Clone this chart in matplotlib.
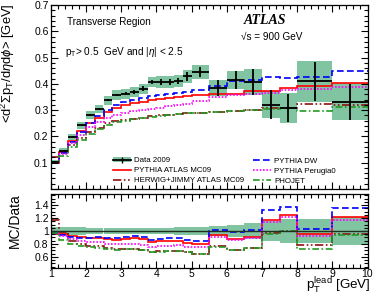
import numpy as np
import matplotlib
matplotlib.use("Agg")
import matplotlib.pyplot as plt
from matplotlib.patches import Patch
from matplotlib.lines import Line2D
from matplotlib.ticker import MultipleLocator, FuncFormatter

plt.rcParams['font.family'] = ['Liberation Sans', 'DejaVu Sans']
plt.rcParams['mathtext.fontset'] = 'custom'
plt.rcParams['mathtext.rm'] = 'Liberation Sans'
plt.rcParams['mathtext.it'] = 'Liberation Sans:italic'
plt.rcParams['mathtext.bf'] = 'Liberation Sans:bold'

# bin edges in leading track pT [GeV]
edges = [1.0, 1.25, 1.5, 1.75, 2.0, 2.25, 2.5, 2.75, 3.0, 3.25, 3.5, 3.75,
         4.0, 4.25, 4.5, 4.75, 5.0, 5.5, 6.0, 6.5, 7.0, 7.5, 8.0, 9.0, 10.0]

data = [0.103, 0.146, 0.199, 0.242, 0.281, 0.306, 0.338, 0.357, 0.362, 0.368,
        0.382, 0.407, 0.407, 0.407, 0.410, 0.428, 0.445, 0.385, 0.415, 0.407,
        0.320, 0.308, 0.410, 0.332]
data_stat = [0.002, 0.002, 0.003, 0.003, 0.004, 0.004, 0.005, 0.005, 0.006, 0.007,
             0.008, 0.009, 0.010, 0.011, 0.012, 0.018, 0.020, 0.030, 0.035, 0.048,
             0.055, 0.055, 0.075, 0.068]
band_rel = [0.06, 0.06, 0.055, 0.055, 0.05, 0.05, 0.05, 0.05, 0.05, 0.05,
            0.05, 0.05, 0.052, 0.052, 0.055, 0.055, 0.056, 0.08, 0.085, 0.12,
            0.16, 0.19, 0.19, 0.21]

mc09 = [0.099, 0.140, 0.183, 0.221, 0.250, 0.272, 0.294, 0.310, 0.320, 0.327,
        0.332, 0.337, 0.342, 0.345, 0.349, 0.352, 0.356, 0.362, 0.363, 0.372,
        0.372, 0.386, 0.392, 0.402]
dw = [0.100, 0.138, 0.180, 0.215, 0.250, 0.276, 0.300, 0.318, 0.330, 0.340,
      0.345, 0.352, 0.358, 0.362, 0.366, 0.370, 0.378, 0.390, 0.410, 0.414,
      0.425, 0.423, 0.425, 0.450]
perugia0 = [0.098, 0.135, 0.175, 0.205, 0.235, 0.255, 0.270, 0.283, 0.290, 0.295,
            0.300, 0.305, 0.310, 0.315, 0.320, 0.325, 0.334, 0.350, 0.357, 0.363,
            0.365, 0.375, 0.380, 0.388]
herwig = [0.121, 0.143, 0.169, 0.194, 0.216, 0.233, 0.250, 0.258, 0.262, 0.266,
          0.272, 0.277, 0.280, 0.283, 0.286, 0.289, 0.290, 0.294, 0.296, 0.302,
          0.310, 0.310, 0.322, 0.318]
phojet = [0.100, 0.125, 0.158, 0.185, 0.210, 0.228, 0.245, 0.255, 0.260, 0.265,
          0.270, 0.275, 0.278, 0.282, 0.285, 0.288, 0.290, 0.293, 0.296, 0.300,
          0.305, 0.308, 0.298, 0.313]

BAND = '#80c4a2'
models = [
    ("PYTHIA ATLAS MC09", mc09, '#ff0000', '-'),
    ("HERWIG+JIMMY ATLAS MC09", herwig, '#8b1010', (0, (5, 1.5, 1, 1.5, 1, 1.5))),
    ("PYTHIA DW", dw, '#0000ff', (0, (4, 2))),
    ("PYTHIA Perugia0", perugia0, '#ff00ff', (0, (1, 1))),
    ("PHOJET", phojet, '#229922', (0, (4, 1.5, 1, 1.5))),
]

edges_a = np.array(edges)
centers = (edges_a[:-1] + edges_a[1:]) / 2
widths = np.diff(edges_a)
data_a = np.array(data)
band = data_a * np.array(band_rel)

fig = plt.figure(figsize=(3.74, 2.96), dpi=100)
W, H = 374.0, 296.0
x0, x1 = 50.7 / W, 367.5 / W
ax = fig.add_axes([x0, 1 - 189 / H, x1 - x0, (189 - 5) / H])
ax2 = fig.add_axes([x0, 1 - 268 / H, x1 - x0, (268 - 194) / H])

# main panel
ax.bar(centers, 2 * band, bottom=data_a - band, width=widths, color=BAND, linewidth=0)
ax.errorbar(centers, data_a, xerr=widths / 2, yerr=data_stat, fmt='none',
            ecolor='k', elinewidth=1.3, capsize=0)
lines = {}
for name, vals, col, ls in models:
    ax.stairs(vals, edges_a, baseline=None, color=col, linestyle=ls, linewidth=1.2)
    lines[name] = Line2D([], [], color=col, linestyle=ls, linewidth=1.2)

ax.set_xlim(1, 10)
ax.set_ylim(0, 0.7)
ax.xaxis.set_major_locator(MultipleLocator(1))
ax.xaxis.set_minor_locator(MultipleLocator(0.2))
ax.yaxis.set_major_locator(MultipleLocator(0.1))
ax.yaxis.set_minor_locator(MultipleLocator(0.02))
ax.yaxis.set_major_formatter(FuncFormatter(lambda v, p: '' if abs(v) < 1e-6 else f'{v:.1f}'))
ax.tick_params(labelbottom=False)

# ratio panel
rel = np.array(band_rel)
ax2.bar(centers, 2 * rel, bottom=1 - rel, width=widths, color=BAND, linewidth=0)
ax2.hlines(1, 1, 10, color='#203020', linewidth=1.0)
for name, vals, col, ls in models:
    ax2.stairs(np.array(vals) / data_a, edges_a, baseline=None, color=col,
               linestyle=ls, linewidth=1.2)
ax2.set_xlim(1, 10)
ax2.set_ylim(0.43, 1.57)
ax2.xaxis.set_major_locator(MultipleLocator(1))
ax2.xaxis.set_minor_locator(MultipleLocator(0.2))
ax2.yaxis.set_major_locator(MultipleLocator(0.2))
ax2.yaxis.set_minor_locator(MultipleLocator(0.05))
ax2.yaxis.set_major_formatter(FuncFormatter(
    lambda v, p: f'{v:g}' if 0.5 < v < 1.5 else ''))

for a in (ax, ax2):
    a.tick_params(which='both', direction='in', top=True, right=True,
                  width=0.8, labelsize=7.5, pad=1.5)
    a.tick_params(which='major', length=5)
    a.tick_params(which='minor', length=2.8)
    for s in a.spines.values():
        s.set_linewidth(0.9)
ax2.tick_params(axis='x', pad=0.5)

# legends
data_handle = (Patch(facecolor=BAND, edgecolor='none'),
               Line2D([], [], color='k', linewidth=1.3, marker='|', markersize=4))
leg_kw = dict(frameon=False, fontsize=5.7, handlelength=2.3, handletextpad=0.4,
              labelspacing=0.3, borderpad=0, borderaxespad=0, loc='center left')
leg1 = ax.legend([data_handle, lines["PYTHIA ATLAS MC09"], lines["HERWIG+JIMMY ATLAS MC09"]],
                 ["Data 2009", "PYTHIA ATLAS MC09", "HERWIG+JIMMY ATLAS MC09"],
                 bbox_to_anchor=(0.197, 0.10), **leg_kw)
ax.add_artist(leg1)
ax.legend([lines["PYTHIA DW"], lines["PYTHIA Perugia0"], lines["PHOJET"]],
          ["PYTHIA DW", "PYTHIA Perugia0", "PHOJET"],
          bbox_to_anchor=(0.638, 0.097), **leg_kw)

# annotations
ax.text(0.051, 0.891, "Transverse Region", transform=ax.transAxes, fontsize=7.2,
        va='baseline')
ax.text(0.045, 0.728, r"p$_{\rm T}$> 0.5  GeV and |$\eta$| < 2.5", transform=ax.transAxes,
        fontsize=7.2, va='baseline')
ax.text(0.676, 0.897, "ATLAS", transform=ax.transAxes, fontsize=10, ha='center',
        va='baseline', family='Liberation Serif', weight='bold', style='italic')
ax.text(0.696, 0.81, "√s = 900 GeV", transform=ax.transAxes, fontsize=7.2,
        ha='center', va='baseline')

fig.text(7.5 / W, 1 - 3 / H, r"<d$^{2}\Sigma$p$_{\rm T}$/d$\eta$d$\phi$> [GeV]",
         rotation=90, ha='center', va='top', fontsize=9.4)
fig.text(15 / W, 1 - 193 / H, "MC/Data", rotation=90, ha='center', va='top', fontsize=10)
fig.text(371 / W, 1 - 290 / H, r"p$_{\rm T}^{\rm lead}$ [GeV]", ha='right',
         va='baseline', fontsize=9.6)

fig.savefig("out.png", dpi=100)
